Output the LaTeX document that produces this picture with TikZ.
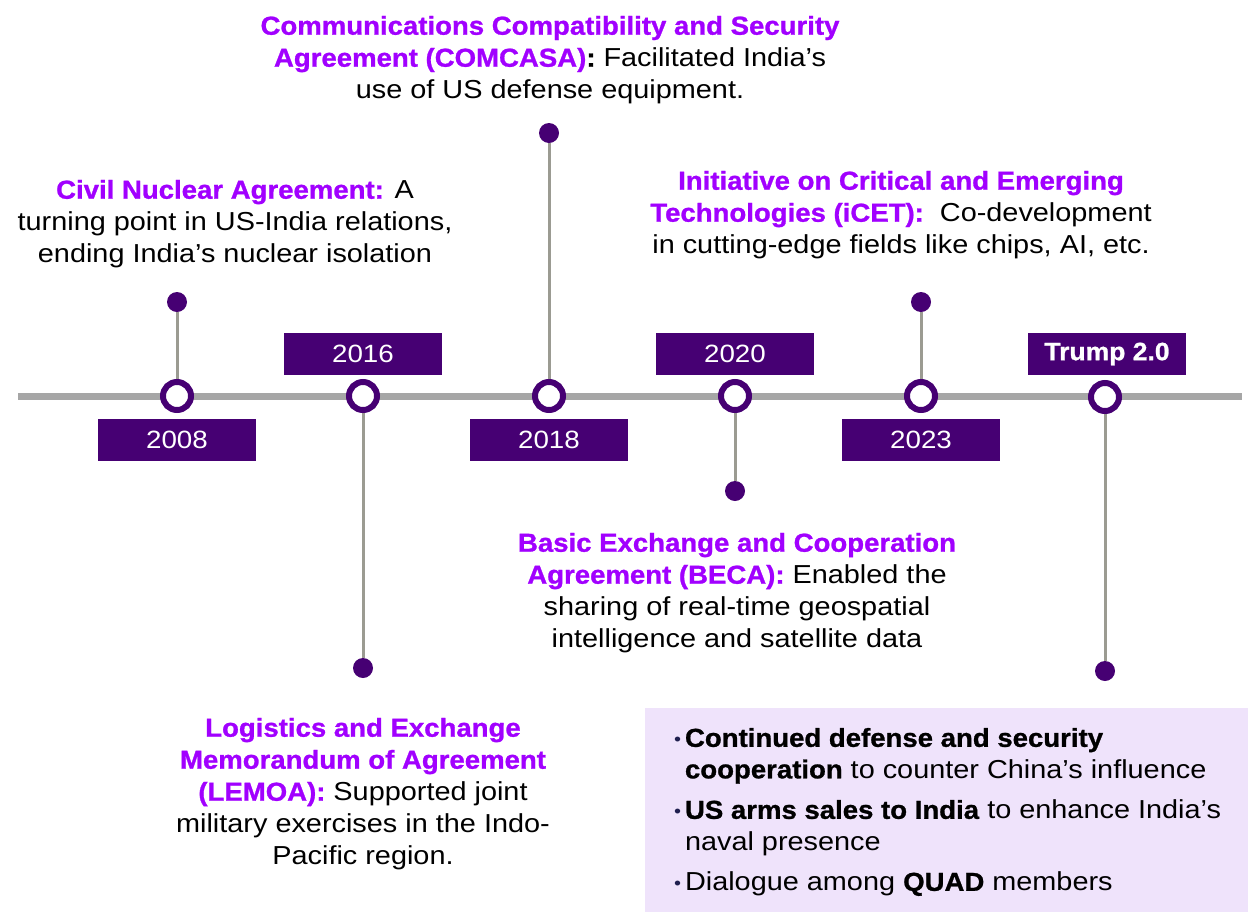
\documentclass[tikz,border=0pt]{standalone}
\usepackage{fontspec}
\setmainfont{Liberation Sans}[FakeStretch=1.11, BoldFeatures={FakeStretch=1.06, FakeBold=1}]
\usetikzlibrary{backgrounds}
\definecolor{hdpurple}{HTML}{A100FF}
\definecolor{dkpurple}{HTML}{460073}
\definecolor{axisgray}{HTML}{A6A6A6}
\definecolor{stemgray}{HTML}{9B9B92}
\definecolor{lav}{HTML}{EFE3FB}
\definecolor{navy}{HTML}{1F1F4F}
\newcommand{\hd}[1]{\textcolor{hdpurple}{\textbf{#1}}}
\newcommand{\bul}{\makebox[11pt][l]{\raisebox{1pt}{\fontsize{18}{18}\selectfont\textcolor{navy}{•}}}}
\tikzset{
  yearbox/.style={fill=dkpurple, text=white, minimum width=158pt, minimum height=42pt, inner sep=0pt, font=\fontsize{25}{30}\selectfont},
  ring/.style={circle, draw=dkpurple, fill=white, line width=6pt, minimum size=28pt, inner sep=0pt},
  enddot/.style={circle, fill=dkpurple, minimum size=20pt, inner sep=0pt},
  stemline/.style={draw=stemgray, line width=3pt},
  axisline/.style={draw=axisgray, line width=7pt},
  desc/.style={align=center, inner sep=0pt, font=\fontsize{26}{32}\selectfont},
}
\begin{document}
\begin{tikzpicture}[x=1pt,y=-1pt]
\useasboundingbox (0,0) rectangle (1256,916);
% axis
\coordinate (axL) at (18,396);
\coordinate (axR) at (1242,396);
\draw[axisline] (axL) -- (axR);
% rings
\node[ring] (c2008) at (177,396) {};
\node[ring] (c2016) at (363,396) {};
\node[ring] (c2018) at (549,396) {};
\node[ring] (c2020) at (735,396) {};
\node[ring] (c2023) at (921,396) {};
\node[ring] (cT) at (1105,397) {};
% end dots
\node[enddot] (d2008) at (177,302) {};
\node[enddot] (d2016) at (363,668) {};
\node[enddot] (d2018) at (549,133) {};
\node[enddot] (d2020) at (735,491) {};
\node[enddot] (d2023) at (921,302) {};
\node[enddot] (dT) at (1105,671) {};
\begin{scope}[on background layer]
\draw[stemline] (c2008) -- (d2008);
\draw[stemline] (c2016) -- (d2016);
\draw[stemline] (c2018) -- (d2018);
\draw[stemline] (c2020) -- (d2020);
\draw[stemline] (c2023) -- (d2023);
\draw[stemline] (cT) -- (dT);
\end{scope}
% year boxes
\node[yearbox] (y2008) at (177,440) {2008};
\node[yearbox] (y2016) at (363,354) {2016};
\node[yearbox] (y2018) at (549,440) {2018};
\node[yearbox] (y2020) at (735,354) {2020};
\node[yearbox] (y2023) at (921,440) {2023};
\node[yearbox] (yT) at (1107,354) {\textbf{Trump 2.0}};
% descriptions
\node[desc] (t2008) at (235,224) {\hd{Civil Nuclear Agreement:} A\\turning point in US-India relations,\\ending India’s nuclear isolation};
\node[desc] (t2018) at (550,60) {\hd{Communications Compatibility and Security}\\\hd{Agreement (COMCASA)}\textbf{:} Facilitated India’s\\use of US defense equipment.};
\node[desc] (t2023) at (901,215) {\hd{Initiative on Critical and Emerging}\\\hd{Technologies (iCET):}\ \ Co-development\\in cutting-edge fields like chips, AI, etc.};
\node[desc] (t2020) at (737,593) {\hd{Basic Exchange and Cooperation}\\\hd{Agreement (BECA):} Enabled the\\sharing of real-time geospatial\\intelligence and satellite data};
\node[desc] (t2016) at (363,794) {\hd{Logistics and Exchange}\\\hd{Memorandum of Agreement}\\\hd{(LEMOA):} Supported joint\\military exercises in the Indo-\\Pacific region.};
% Trump box
\node[fill=lav, minimum width=603pt, minimum height=204pt, inner sep=0pt] (bx) at (946.5,810) {};
\node[anchor=north west, align=left, inner sep=0pt, font=\fontsize{26}{31.5}\selectfont] (bl) at ([xshift=29pt,yshift=-20pt]bx.north west)
 {\bul\textbf{Continued defense and security}\\
  \hspace*{11pt}\textbf{cooperation} to counter China’s influence\\[9pt]
  \bul\textbf{US arms sales to India} to enhance India’s\\
  \hspace*{11pt}naval presence\\[9pt]
  \bul Dialogue among \textbf{QUAD} members};
\end{tikzpicture}
\end{document}
